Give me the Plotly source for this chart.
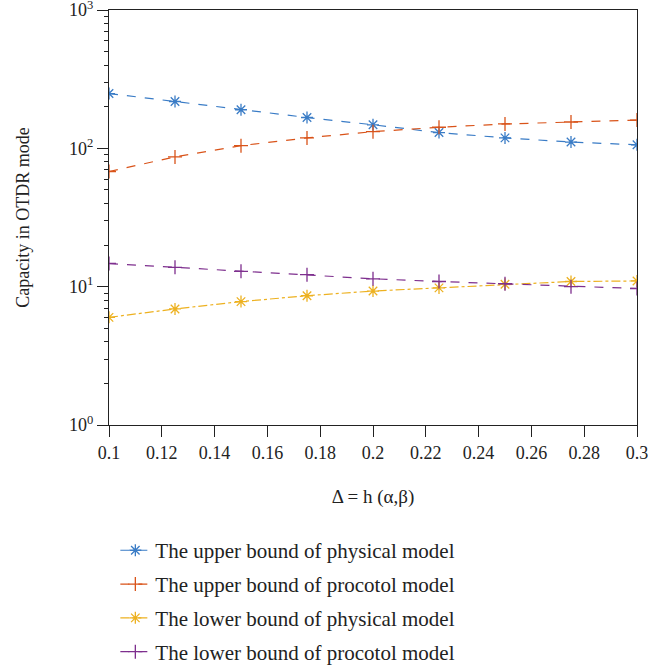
import plotly.graph_objects as go

x_vals = [0.1, 0.125, 0.15, 0.175, 0.2, 0.225, 0.25, 0.275, 0.3]
upper_physical = [249, 218, 190, 167, 148, 130, 119, 111, 106]
upper_protocol = [68, 86.7, 104.6, 119, 132, 142, 150, 155, 160]
lower_physical = [6.0, 6.9, 7.8, 8.6, 9.3, 9.8, 10.4, 10.9, 11.0]
lower_protocol = [14.7, 13.8, 12.9, 12.2, 11.4, 10.9, 10.5, 10.0, 9.7]

names = ["The upper bound of physical model", "The upper bound of procotol model",
         "The lower bound of physical model", "The lower bound of procotol model"]
series = [upper_physical, upper_protocol, lower_physical, lower_protocol]
colors = ["#3A7CC6", "#D95319", "#EDB120", "#7E2F8E"]
dashes = ["dash", "dash", "dashdot", "dash"]
symbols = ["asterisk", "cross-thin", "asterisk", "cross-thin"]

FONT = "Liberation Serif"
fig = go.Figure()
for i in range(4):
    fig.add_trace(go.Scatter(
        x=x_vals, y=series[i], mode="lines+markers", name=names[i],
        legendgroup=str(i),
        line=dict(color=colors[i], width=1.2, dash=dashes[i]),
        marker=dict(symbol=symbols[i], size=10, color=colors[i],
                    line=dict(color=colors[i], width=1.3)),
    ))

fig.update_layout(
    width=648, height=671,
    margin=dict(l=109, r=11, t=10, b=246),
    paper_bgcolor="white", plot_bgcolor="white",
    font=dict(family=FONT, size=18, color="#222"),
    showlegend=True,
    legend=dict(x=0.012, y=0.21, xref="paper", yref="container",
                xanchor="left", yanchor="top",
                tracegroupgap=3.5, font=dict(size=21, family=FONT),
                bgcolor="rgba(0,0,0,0)"),
)
fig.update_xaxes(
    range=[0.1, 0.3], tick0=0.1, dtick=0.02, ticks="outside", ticklen=11,
    tickcolor="#222", showline=True, linecolor="#222", linewidth=1.2, mirror=True,
    showgrid=False, zeroline=False, automargin=False, ticklabeloverflow="allow",
    tickfont=dict(size=18),
    title=dict(text="Δ = h (α,β)", standoff=27, font=dict(size=19)),
)
fig.update_yaxes(
    type="log", range=[0, 3], tickvals=[1, 10, 100, 1000],
    ticktext=["10<sup>0</sup>", "10<sup>1</sup>", "10<sup>2</sup>", "10<sup>3</sup>"],
    ticks="outside", ticklen=11, tickcolor="#222", ticklabeloverflow="allow",
    minor=dict(ticks="outside", ticklen=4, dtick="D1", tickcolor="#222", showgrid=False),
    showline=True, linecolor="#222", linewidth=1.2, mirror=True,
    showgrid=False, zeroline=False, automargin=False,
    tickfont=dict(size=18),
    title=dict(text="Capacity in OTDR mode", standoff=34, font=dict(size=18)),
)

fig.write_html("out.html")
